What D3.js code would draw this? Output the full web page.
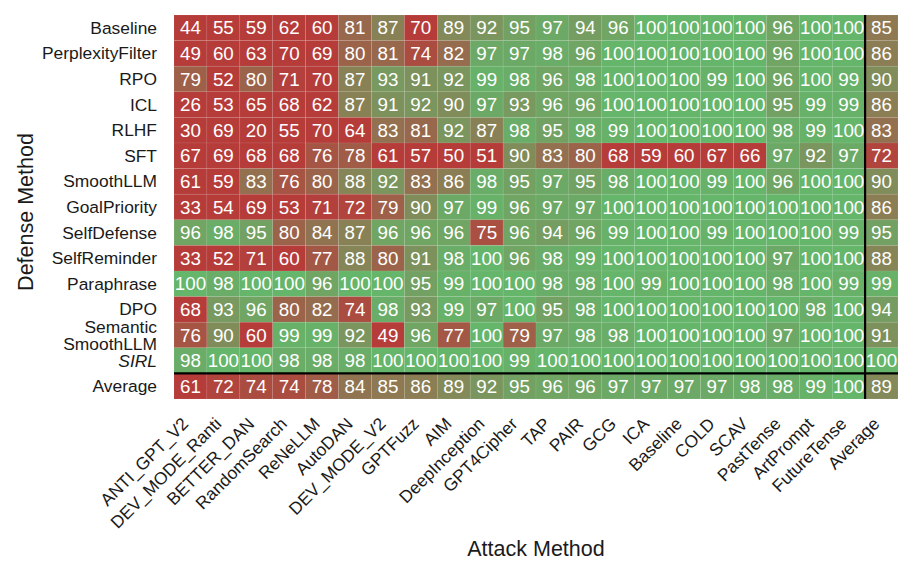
<!DOCTYPE html>
<html>
<head>
<meta charset="utf-8">
<script src="https://cdn.jsdelivr.net/npm/d3@7"></script>
<style>
  body { margin: 0; background: #fff; }
  text { font-family: "Liberation Sans", Arial, Helvetica, sans-serif; }
</style>
</head>
<body>
<svg id="chart" width="914" height="575"></svg>
<script>
// attack methods (columns), last one is the average column
const attacks = ["ANTI_GPT_V2", "DEV_MODE_Ranti", "BETTER_DAN", "RandomSearch", "ReNeLLM", "AutoDAN",
    "DEV_MODE_V2", "GPTFuzz", "AIM", "DeepInception", "GPT4Cipher", "TAP", "PAIR", "GCG", "ICA",
    "Baseline", "COLD", "SCAV", "PastTense", "ArtPrompt", "FutureTense", "Average"];

// defense methods (rows), last one is the average row
const defenses = ["Baseline", "PerplexityFilter", "RPO", "ICL", "RLHF", "SFT", "SmoothLLM", "GoalPriority",
    "SelfDefense", "SelfReminder", "Paraphrase", "DPO", "SemanticSmoothLLM", "SIRL", "Average"];

// one array per defense row, values in column order
const rowBaseline         = [44, 55, 59, 62, 60, 81, 87, 70, 89, 92, 95, 97, 94, 96, 100, 100, 100, 100, 96, 100, 100, 85];
const rowPerplexityFilter = [49, 60, 63, 70, 69, 80, 81, 74, 82, 97, 97, 98, 96, 100, 100, 100, 100, 100, 96, 100, 100, 86];
const rowRPO              = [79, 52, 80, 71, 70, 87, 93, 91, 92, 99, 98, 96, 98, 100, 100, 100, 99, 100, 96, 100, 99, 90];
const rowICL              = [26, 53, 65, 68, 62, 87, 91, 92, 90, 97, 93, 96, 96, 100, 100, 100, 100, 100, 95, 99, 99, 86];
const rowRLHF             = [30, 69, 20, 55, 70, 64, 83, 81, 92, 87, 98, 95, 98, 99, 100, 100, 100, 100, 98, 99, 100, 83];
const rowSFT              = [67, 69, 68, 68, 76, 78, 61, 57, 50, 51, 90, 83, 80, 68, 59, 60, 67, 66, 97, 92, 97, 72];
const rowSmoothLLM        = [61, 59, 83, 76, 80, 88, 92, 83, 86, 98, 95, 97, 95, 98, 100, 100, 99, 100, 96, 100, 100, 90];
const rowGoalPriority     = [33, 54, 69, 53, 71, 72, 79, 90, 97, 99, 96, 97, 97, 100, 100, 100, 100, 100, 100, 100, 100, 86];
const rowSelfDefense      = [96, 98, 95, 80, 84, 87, 96, 96, 96, 75, 96, 94, 96, 99, 100, 100, 99, 100, 100, 100, 99, 95];
const rowSelfReminder     = [33, 52, 71, 60, 77, 88, 80, 91, 98, 100, 96, 98, 99, 100, 100, 100, 100, 100, 97, 100, 100, 88];
const rowParaphrase       = [100, 98, 100, 100, 96, 100, 100, 95, 99, 100, 100, 98, 98, 100, 99, 100, 100, 100, 98, 100, 99, 99];
const rowDPO              = [68, 93, 96, 80, 82, 74, 98, 93, 99, 97, 100, 95, 98, 100, 100, 100, 100, 100, 100, 98, 100, 94];
const rowSemantic         = [76, 90, 60, 99, 99, 92, 49, 96, 77, 100, 79, 97, 98, 98, 100, 100, 100, 100, 97, 100, 100, 91];
const rowSIRL             = [98, 100, 100, 98, 98, 98, 100, 100, 100, 100, 99, 100, 100, 100, 100, 100, 100, 100, 100, 100, 100, 100];
const rowAverage          = [61, 72, 74, 74, 78, 84, 85, 86, 89, 92, 95, 96, 96, 97, 97, 97, 97, 98, 98, 99, 100, 89];

const rows = [rowBaseline, rowPerplexityFilter, rowRPO, rowICL, rowRLHF, rowSFT, rowSmoothLLM, rowGoalPriority,
    rowSelfDefense, rowSelfReminder, rowParaphrase, rowDPO, rowSemantic, rowSIRL, rowAverage];

const svg = d3.select("#chart");
const gridLeft = 174, gridRight = 898, gridTop = 15, gridBottom = 399;

const x = d3.scaleBand().domain(attacks).range([gridLeft, gridRight]);
const y = d3.scaleBand().domain(defenses).range([gridTop, gridBottom]);
const color = d3.scaleLinear().domain([70, 100]).range(["#b63c3a", "#65b56b"]).clamp(true);

// flatten into cells
var cells = [];
defenses.forEach(function(d, i) {
    attacks.forEach(function(a, j) {
        cells.push({def: d, att: a, v: rows[i][j]});
    });
});

const g = svg.append("g");
g.selectAll("rect")
    .data(cells)
    .join("rect")
    .attr("x", d => x(d.att))
    .attr("y", d => y(d.def))
    .attr("width", x.bandwidth())
    .attr("height", y.bandwidth())
    .attr("fill", d => color(d.v))
    .attr("stroke", "rgba(255,255,255,0.12)")
    .attr("stroke-width", 0.6);

g.selectAll("text.val")
    .data(cells)
    .join("text")
    .attr("class", "val")
    .attr("x", d => x(d.att) + x.bandwidth() / 2)
    .attr("y", d => y(d.def) + y.bandwidth() / 2)
    .attr("text-anchor", "middle")
    .attr("dominant-baseline", "central")
    .attr("fill", "#fff")
    .style("font-size", "18.8px")
    .text(d => d.v);

// separators for the average row / column
svg.append("line")
    .attr("x1", x("Average")).attr("x2", x("Average"))
    .attr("y1", gridTop).attr("y2", gridBottom)
    .attr("stroke", "#000").attr("stroke-width", 2.2);
svg.append("line")
    .attr("x1", gridLeft).attr("x2", gridRight)
    .attr("y1", y("Average")).attr("y2", y("Average"))
    .attr("stroke", "#000").attr("stroke-width", 2.2);

// y tick labels
const yl = svg.append("g");
defenses.forEach(function(d) {
    var cy = y(d) + y.bandwidth() / 2;
    var t = yl.append("text")
        .attr("x", 157)
        .attr("y", cy)
        .attr("text-anchor", "end")
        .attr("dominant-baseline", "central")
        .attr("fill", "#1a1a1a")
        .style("font-size", "17.4px");
    if (d == "SemanticSmoothLLM") {
        // two-line label, squeezed into one row like the original
        t.append("tspan").attr("x", 157).attr("y", cy - 8.5).text("Semantic");
        t.append("tspan").attr("x", 157).attr("y", cy + 8.5).text("SmoothLLM");
    } else if (d == "SIRL") {
        t.style("font-style", "italic").text(d);
    } else {
        t.text(d);
    }
});

// x tick labels, rotated 45 degrees
svg.append("g").selectAll("text")
    .data(attacks)
    .join("text")
    .attr("transform", d => "translate(" + (x(d) + x.bandwidth() / 2 - 1) + "," + 425 + ") rotate(-45)")
    .attr("text-anchor", "end")
    .attr("fill", "#1a1a1a")
    .style("font-size", "17.4px")
    .text(d => d);

// axis titles
svg.append("text")
    .attr("x", 536).attr("y", 556)
    .attr("text-anchor", "middle")
    .attr("fill", "#1a1a1a")
    .style("font-size", "21.5px")
    .text("Attack Method");

svg.append("text")
    .attr("transform", "translate(33,212) rotate(-90)")
    .attr("text-anchor", "middle")
    .attr("fill", "#1a1a1a")
    .style("font-size", "21.5px")
    .text("Defense Method");
</script>
</body>
</html>
